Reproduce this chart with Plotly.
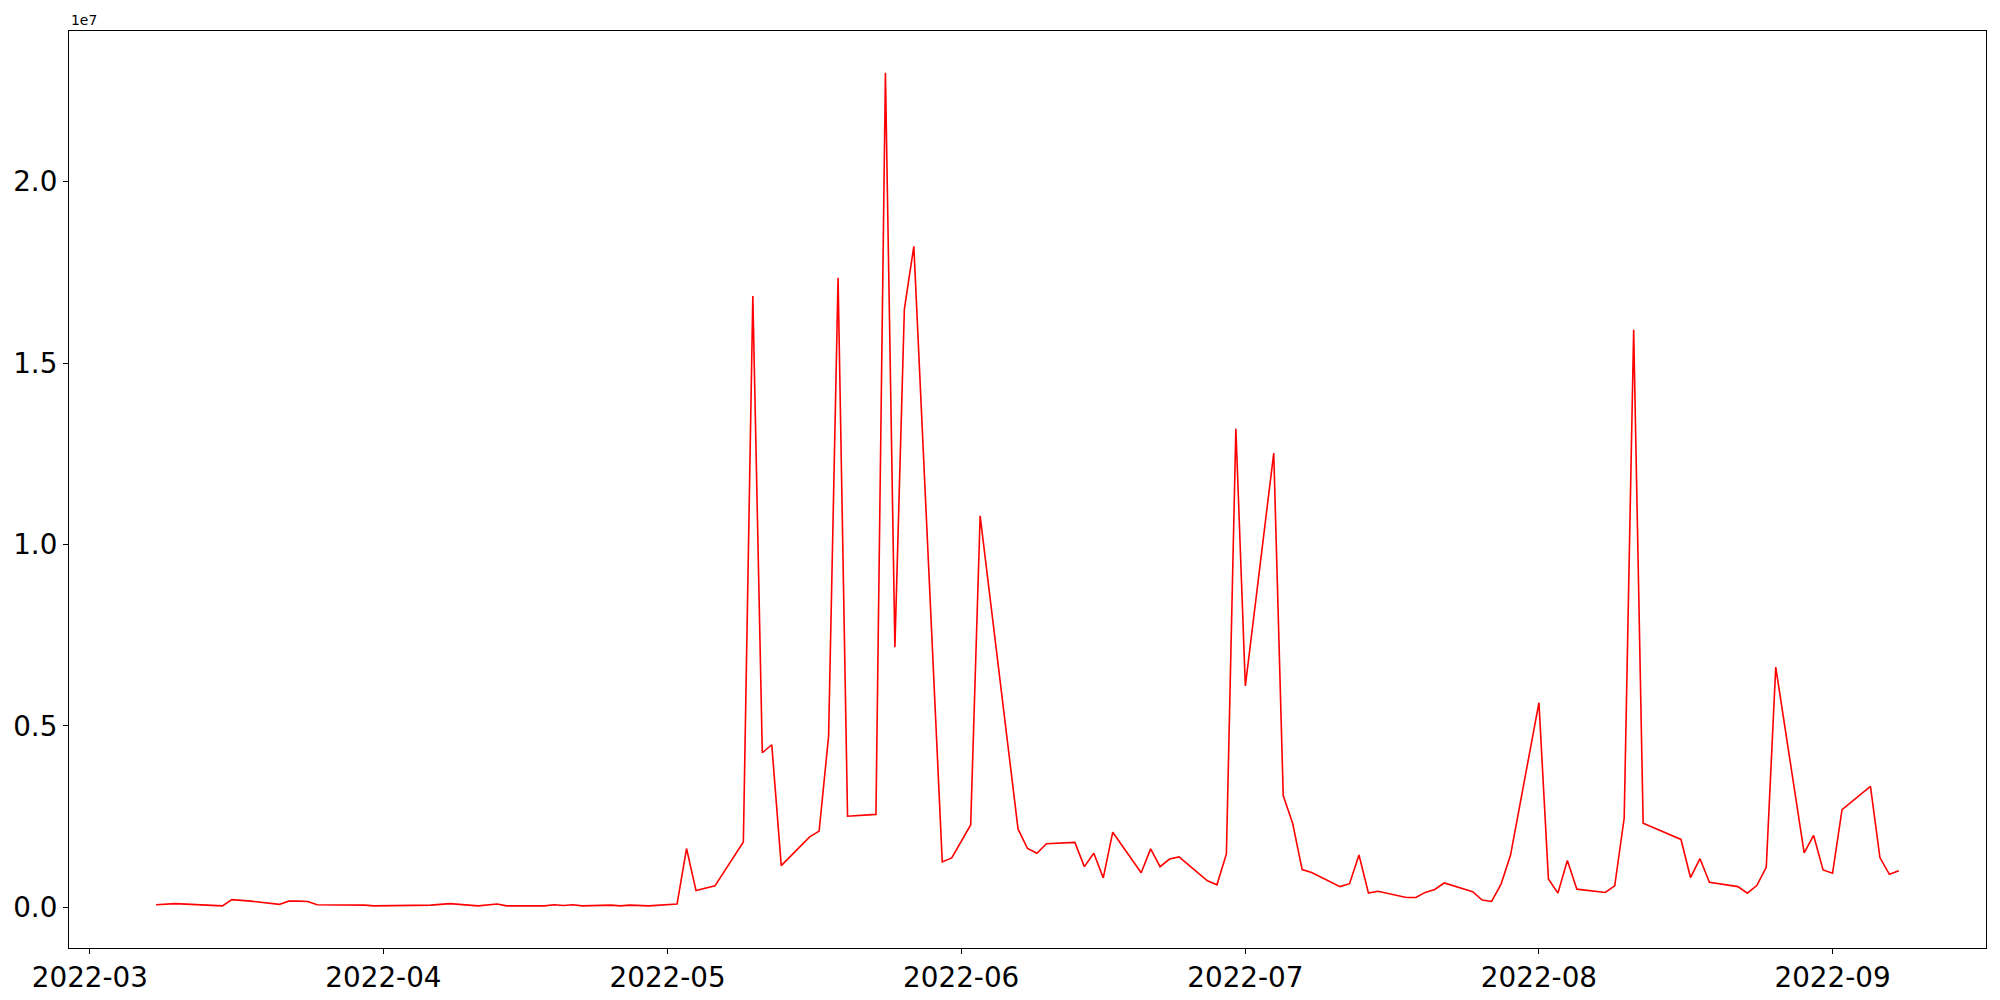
import plotly.graph_objects as go

dates = [
    "2022-03-08", "2022-03-10", "2022-03-15", "2022-03-16", "2022-03-17", "2022-03-18",
    "2022-03-21", "2022-03-22", "2022-03-23", "2022-03-24", "2022-03-25",
    "2022-03-28", "2022-03-29", "2022-03-30", "2022-03-31", "2022-04-01",
    "2022-04-04", "2022-04-05", "2022-04-06", "2022-04-07", "2022-04-08",
    "2022-04-11", "2022-04-12", "2022-04-13", "2022-04-14", "2022-04-15",
    "2022-04-18", "2022-04-19", "2022-04-20", "2022-04-21", "2022-04-22",
    "2022-04-25", "2022-04-26", "2022-04-27", "2022-04-28", "2022-04-29",
    "2022-05-02", "2022-05-03", "2022-05-04", "2022-05-06",
    "2022-05-09", "2022-05-10", "2022-05-11", "2022-05-12", "2022-05-13",
    "2022-05-16", "2022-05-17", "2022-05-18", "2022-05-19", "2022-05-20",
    "2022-05-23", "2022-05-24", "2022-05-25", "2022-05-26", "2022-05-27",
    "2022-05-30", "2022-05-31", "2022-06-02", "2022-06-03",
    "2022-06-07", "2022-06-08", "2022-06-09", "2022-06-10",
    "2022-06-13", "2022-06-14", "2022-06-15", "2022-06-16", "2022-06-17",
    "2022-06-20", "2022-06-21", "2022-06-22", "2022-06-23", "2022-06-24",
    "2022-06-27", "2022-06-28", "2022-06-29", "2022-06-30", "2022-07-01",
    "2022-07-04", "2022-07-05", "2022-07-06", "2022-07-07", "2022-07-08",
    "2022-07-11", "2022-07-12", "2022-07-13", "2022-07-14", "2022-07-15",
    "2022-07-18", "2022-07-19", "2022-07-20", "2022-07-21", "2022-07-22",
    "2022-07-25", "2022-07-26", "2022-07-27", "2022-07-28", "2022-07-29",
    "2022-08-01", "2022-08-02", "2022-08-03", "2022-08-04", "2022-08-05",
    "2022-08-08", "2022-08-09", "2022-08-10", "2022-08-11", "2022-08-12",
    "2022-08-16", "2022-08-17", "2022-08-18", "2022-08-19",
    "2022-08-22", "2022-08-23", "2022-08-24", "2022-08-25", "2022-08-26",
    "2022-08-29", "2022-08-30", "2022-08-31", "2022-09-01", "2022-09-02",
    "2022-09-05", "2022-09-06", "2022-09-07", "2022-09-08",
]

values_millions = [
    0.07, 0.10, 0.04, 0.21, 0.19, 0.17,
    0.08, 0.17, 0.17, 0.16, 0.07,
    0.07, 0.07, 0.06, 0.04, 0.04,
    0.04, 0.05, 0.06, 0.08, 0.10,
    0.04, 0.06, 0.09, 0.04, 0.04,
    0.04, 0.07, 0.05, 0.07, 0.04,
    0.06, 0.04, 0.06, 0.06, 0.04,
    0.09, 1.62, 0.46, 0.59,
    1.80, 16.85, 4.26, 4.48, 1.15,
    1.94, 2.10, 4.72, 17.35, 2.51,
    2.56, 23.00, 7.17, 16.49, 18.22,
    1.25, 1.36, 2.27, 10.79,
    2.16, 1.62, 1.49, 1.75,
    1.79, 1.12, 1.49, 0.81, 2.07,
    0.95, 1.61, 1.12, 1.33, 1.39,
    0.73, 0.62, 1.47, 13.19, 6.10,
    12.52, 3.08, 2.31, 1.04, 0.96,
    0.57, 0.65, 1.44, 0.39, 0.44,
    0.27, 0.27, 0.41, 0.49, 0.67,
    0.43, 0.20, 0.16, 0.64, 1.44,
    5.64, 0.78, 0.39, 1.29, 0.50,
    0.41, 0.59, 2.46, 15.92, 2.32,
    1.87, 0.82, 1.34, 0.69,
    0.57, 0.39, 0.60, 1.10, 6.62,
    1.50, 1.98, 1.03, 0.94, 2.69,
    3.33, 1.37, 0.91, 1.01,
]
values = [v * 1e6 for v in values_millions]

x_tick_vals = ["2022-03-01", "2022-04-01", "2022-05-01", "2022-06-01",
               "2022-07-01", "2022-08-01", "2022-09-01"]
x_tick_text = ["2022-03", "2022-04", "2022-05", "2022-06",
               "2022-07", "2022-08", "2022-09"]
y_tick_vals = [0, 5e6, 10e6, 15e6, 20e6]
y_tick_text = ["0.0", "0.5", "1.0", "1.5", "2.0"]

FONT = "DejaVu Sans"

fig = go.Figure()
fig.add_trace(go.Scatter(
    x=dates, y=values, mode="lines",
    line=dict(color="#ff0000", width=1.6),
    showlegend=False,
))

axis_common = dict(
    showline=True, linecolor="black", linewidth=1.1, mirror=True,
    ticks="outside", ticklen=5, tickwidth=1.1, tickcolor="black",
    showgrid=False, zeroline=False, automargin=False,
    tickfont=dict(family=FONT, size=27.8, color="black"),
)

# the page body has an 8px default margin, so the figure is 8px smaller
fig.update_layout(
    width=1992, height=992, autosize=False,
    paper_bgcolor="white", plot_bgcolor="white",
    margin=dict(l=61, r=14, t=23, b=52, pad=0),
    xaxis=dict(
        type="date",
        range=["2022-02-26 19:12", "2022-09-17 04:48"],
        tickmode="array", tickvals=x_tick_vals, ticktext=x_tick_text,
        **axis_common,
    ),
    yaxis=dict(
        range=[-1.122e6, 24.153e6],
        tickmode="array", tickvals=y_tick_vals, ticktext=y_tick_text,
        **axis_common,
    ),
    annotations=[dict(
        text="1e7", xref="paper", yref="paper", x=0, y=1,
        xanchor="left", yanchor="bottom", showarrow=False,
        font=dict(family=FONT, size=13.9, color="black"), yshift=1,
    )],
)

fig.write_html("out.html")
